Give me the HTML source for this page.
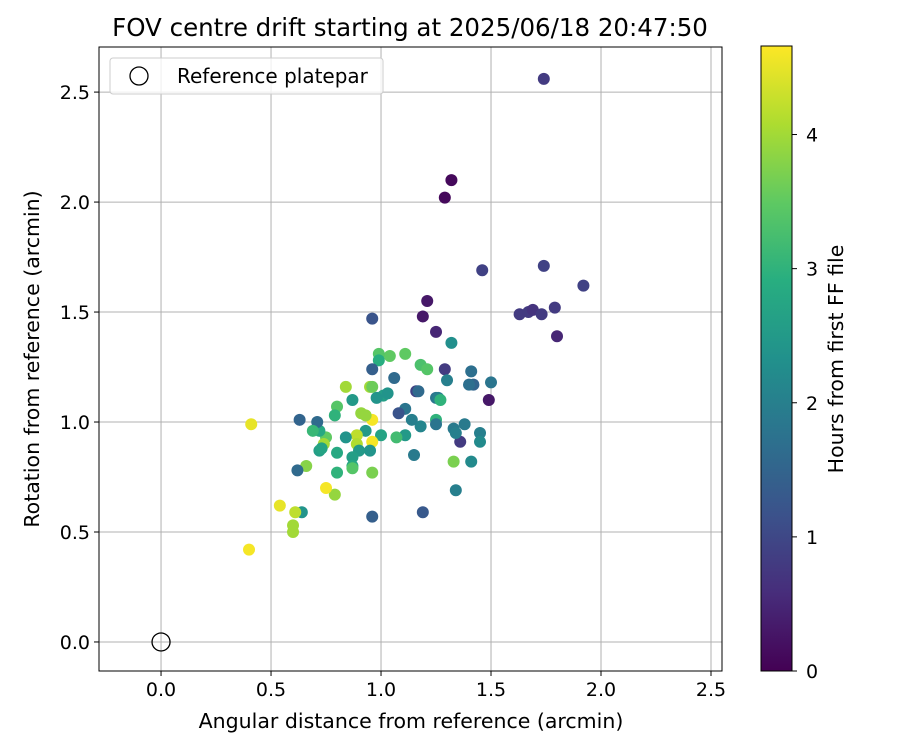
<!DOCTYPE html>
<html><head><meta charset="utf-8"><style>
body{margin:0;background:#fff}
svg text{font-family:"DejaVu Sans","Liberation Sans",sans-serif;fill:#000}
</style></head><body>
<svg id="c" width="900" height="750" xmlns="http://www.w3.org/2000/svg">
<defs><linearGradient id="vg" x1="0" y1="1" x2="0" y2="0">
<stop offset="0" stop-color="#440154"/><stop offset="0.125" stop-color="#472d7b"/><stop offset="0.25" stop-color="#3b528b"/><stop offset="0.375" stop-color="#2c728e"/><stop offset="0.5" stop-color="#21918c"/><stop offset="0.625" stop-color="#28ae80"/><stop offset="0.75" stop-color="#5ec962"/><stop offset="0.875" stop-color="#addc30"/><stop offset="1" stop-color="#fde725"/></linearGradient></defs>
<rect x="0" y="0" width="900" height="750" fill="#fff"/>
<g id="grid"></g><g id="pts"></g><g id="axes"></g>
</svg>
<script>
const xs=[1.74,1.32,1.29,1.46,1.74,1.92,1.63,1.67,1.69,1.73,1.79,1.80,1.21,1.19,1.25,0.96,1.49,1.32,1.29,1.41,1.42,1.50,1.40,1.30,1.16,1.17,1.25,1.26,1.27,1.36,1.38,1.33,1.34,1.45,1.45,1.41,1.33,1.34,1.25,1.25,1.18,1.14,1.11,1.08,1.06,1.11,1.07,1.15,1.19,1.18,1.21,1.11,1.04,0.99,0.99,0.96,1.01,1.03,0.95,0.96,0.98,1.00,0.96,0.96,0.95,0.93,0.91,0.93,0.89,0.89,0.90,0.96,0.96,0.87,0.84,0.84,0.87,0.87,0.87,0.80,0.79,0.80,0.80,0.79,0.75,0.75,0.74,0.72,0.71,0.72,0.73,0.69,0.66,0.63,0.62,0.64,0.61,0.60,0.60,0.54,0.41,0.40];
const ys=[2.56,2.10,2.02,1.69,1.71,1.62,1.49,1.50,1.51,1.49,1.52,1.39,1.55,1.48,1.41,1.47,1.10,1.36,1.24,1.23,1.17,1.18,1.17,1.19,1.14,1.14,1.11,1.11,1.10,0.91,0.99,0.97,0.95,0.95,0.91,0.82,0.82,0.69,1.01,0.99,0.98,1.01,1.06,1.04,1.20,0.94,0.93,0.85,0.59,1.26,1.24,1.31,1.30,1.31,1.28,1.24,1.12,1.13,1.16,1.16,1.11,0.94,1.01,0.91,0.87,0.96,1.04,1.03,0.94,0.90,0.87,0.77,0.57,1.10,1.16,0.93,0.84,0.80,0.79,1.07,1.03,0.86,0.77,0.67,0.70,0.93,0.90,0.96,1.00,0.87,0.88,0.96,0.80,1.01,0.78,0.59,0.59,0.53,0.50,0.62,0.99,0.42];
const hours=[0.8,0.1,0.1,0.9,0.9,0.9,0.8,0.8,0.7,0.8,0.8,0.5,0.3,0.3,0.5,1.2,0.3,2.3,0.8,1.7,1.5,1.8,1.7,2.0,0.9,1.6,1.8,2.0,3.0,0.8,1.9,1.9,2.0,2.0,2.2,2.2,3.7,2.0,3.0,1.8,2.1,2.0,1.8,1.2,1.6,2.5,3.2,1.9,1.3,3.3,3.4,3.5,3.5,3.4,2.9,1.4,2.6,2.4,4.0,3.6,2.4,2.7,4.6,4.6,2.4,2.5,3.9,3.9,4.2,4.1,2.5,3.7,1.4,2.5,4.0,2.4,2.6,2.8,3.4,3.4,3.0,2.8,3.0,3.9,4.6,3.5,4.0,2.8,1.6,2.6,2.7,3.1,3.8,1.5,1.6,2.4,4.2,4.0,4.0,4.5,4.5,4.6];
const xTicks=[0,0.5,1,1.5,2,2.5], yTicks=[0,0.5,1,1.5,2,2.5], cTicks=[0,1,2,3,4];
const L=99,R=722,T=47,B=671, xmin=-0.282,xmax=2.55,ymin=-0.132,ymax=2.705, cmax=4.66;
const X=v=>L+(v-xmin)/(xmax-xmin)*(R-L), Y=v=>B-(v-ymin)/(ymax-ymin)*(B-T);
const CY=v=>671-v/cmax*625;
const stops=[[68,1,84],[71,45,123],[59,82,139],[44,114,142],[33,145,140],[40,174,128],[94,201,98],[173,220,48],[253,231,37]];
function vir(t){t=Math.max(0,Math.min(1,t))*8;const i=Math.min(7,Math.floor(t)),f=t-i;const a=stops[i],b=stops[i+1];return `rgb(${a.map((c,k)=>Math.round(c+(b[k]-c)*f)).join(',')})`;}
const NS='http://www.w3.org/2000/svg';
function mk(p,tag,at,txt){const e=document.createElementNS(NS,tag);for(const k in at)e.setAttribute(k,at[k]);if(txt!=null)e.textContent=txt;document.getElementById(p).appendChild(e);return e;}
xTicks.forEach(v=>{const e=mk('grid','line',{x1:X(v),x2:X(v),y1:T,y2:B,stroke:'#b0b0b0','stroke-width':1});

});
yTicks.forEach(v=>{const e=mk('grid','line',{x1:L,x2:R,y1:Y(v),y2:Y(v),stroke:'#b0b0b0','stroke-width':1});

});
xs.forEach((x,i)=>{const e=mk('pts','circle',{cx:X(x),cy:Y(ys[i]),r:6,fill:vir(hours[i]/cmax)});

});
const ref=mk('pts','circle',{cx:X(0),cy:Y(0),r:9,fill:'none',stroke:'#000','stroke-width':1.3});


const fr=mk('axes','rect',{x:L,y:T,width:R-L,height:B-T,fill:'none',stroke:'#000','stroke-width':1});


xTicks.forEach(v=>{mk('axes','line',{x1:X(v),x2:X(v),y1:B,y2:B+5,stroke:'#000'});
const t=mk('axes','text',{x:X(v),y:B+25,'text-anchor':'middle','font-size':19},v.toFixed(1));

});
yTicks.forEach(v=>{mk('axes','line',{x1:L-5,x2:L,y1:Y(v),y2:Y(v),stroke:'#000'});
const t=mk('axes','text',{x:L-9,y:Y(v)+7,'text-anchor':'end','font-size':19},v.toFixed(1));

});
const cb=mk('axes','rect',{x:761,y:46,width:31,height:625,fill:'url(#vg)',stroke:'#000','stroke-width':1});


cTicks.forEach(v=>{mk('axes','line',{x1:792,x2:797,y1:CY(v),y2:CY(v),stroke:'#000'});
const t=mk('axes','text',{x:806,y:CY(v)+7,'font-size':19},String(v));

});
</script>
<svg style="position:absolute;left:0;top:0" width="900" height="750" xmlns="http://www.w3.org/2000/svg">
<text x="410" y="36" text-anchor="middle" font-size="24.5">FOV centre drift starting at 2025/06/18 20:47:50</text>
<text x="411" y="728" text-anchor="middle" font-size="20.5">Angular distance from reference (arcmin)</text>
<text transform="translate(39,359) rotate(-90)" text-anchor="middle" font-size="20.5">Rotation from reference (arcmin)</text>
<text transform="translate(843,359) rotate(-90)" text-anchor="middle" font-size="20.5">Hours from first FF file</text>
<g>
<rect x="110" y="58" width="273" height="36" rx="3" fill="#fff" fill-opacity="0.8" stroke="#ccc"/>
<circle cx="139" cy="76" r="9" fill="none" stroke="#000" stroke-width="1.3"/>
<text x="177" y="83" font-size="20">Reference platepar</text>
</g>
</svg>
</body></html>
